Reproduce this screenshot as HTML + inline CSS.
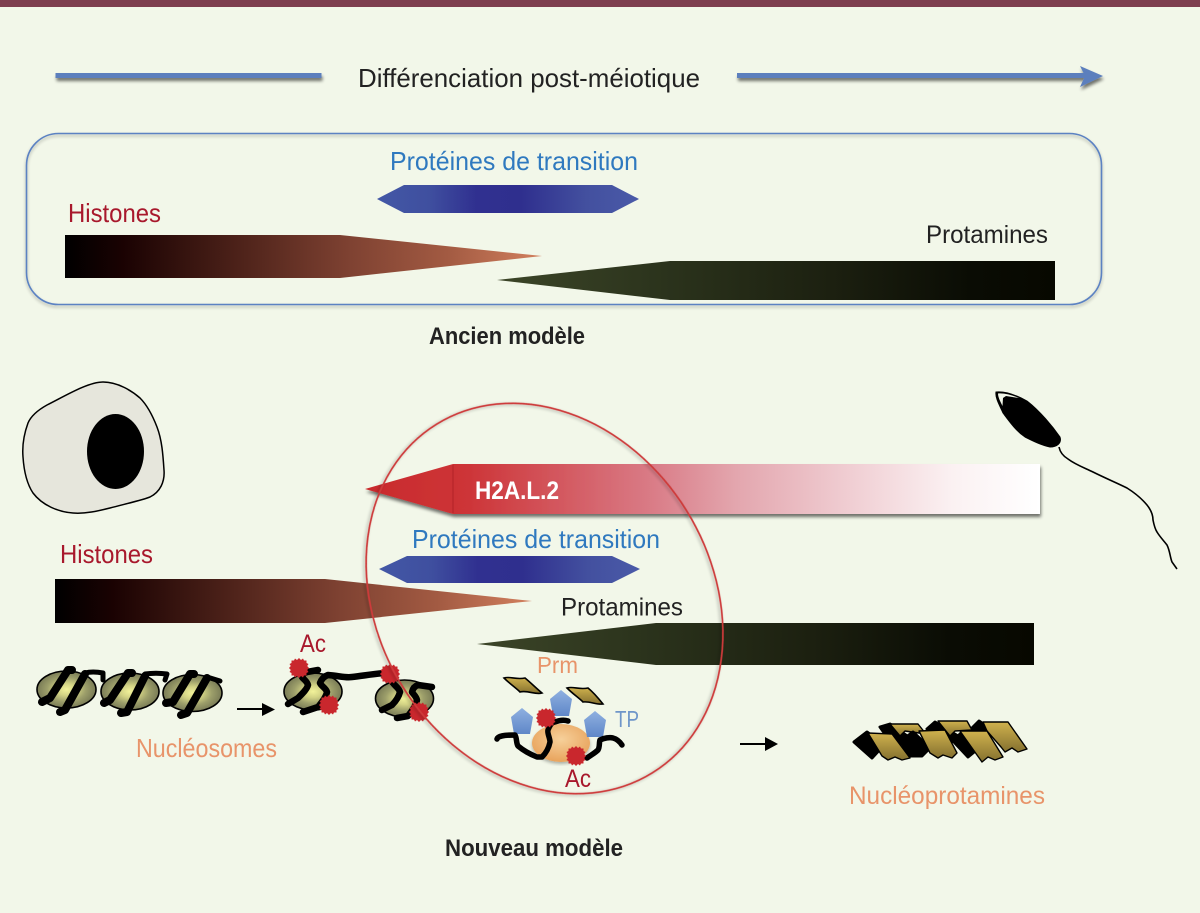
<!DOCTYPE html>
<html><head><meta charset="utf-8"><style>
html,body{margin:0;padding:0;background:#f2f7e9}
svg{display:block}
text{font-family:"Liberation Sans",sans-serif}
</style></head><body>
<svg width="1200" height="913" viewBox="0 0 1200 913" xmlns="http://www.w3.org/2000/svg">
<defs>
<linearGradient id="hist" x1="0" x2="1" y1="0" y2="0"><stop offset="0" stop-color="#000"/><stop offset=".12" stop-color="#1a0202"/><stop offset=".35" stop-color="#4a2018"/><stop offset=".6" stop-color="#7f4232"/><stop offset=".8" stop-color="#a25a42"/><stop offset="1" stop-color="#d2805e"/></linearGradient>
<linearGradient id="prot" x1="0" x2="1" y1="0" y2="0"><stop offset="0" stop-color="#3c4528"/><stop offset=".3" stop-color="#2b331c"/><stop offset=".6" stop-color="#1c2010"/><stop offset=".85" stop-color="#0a0c04"/><stop offset="1" stop-color="#070800"/></linearGradient>
<linearGradient id="tp" x1="0" x2="1" y1="0" y2="0"><stop offset="0" stop-color="#4358a6"/><stop offset=".2" stop-color="#3f4f9f"/><stop offset=".38" stop-color="#303090"/><stop offset=".55" stop-color="#2f2f8e"/><stop offset=".8" stop-color="#43509f"/><stop offset="1" stop-color="#4a5aa8"/></linearGradient>
<linearGradient id="h2a" gradientUnits="userSpaceOnUse" x1="365" x2="1040" y1="0" y2="0"><stop offset="0" stop-color="#c92a2c"/><stop offset=".15" stop-color="#cd3437"/><stop offset=".42" stop-color="#d97a85"/><stop offset=".55" stop-color="#e3a6ae"/><stop offset=".72" stop-color="#f0ced3"/><stop offset=".87" stop-color="#fbf1f2"/><stop offset="1" stop-color="#fff"/></linearGradient>
<linearGradient id="gold" x1="0" x2="0" y1="0" y2="1"><stop offset="0" stop-color="#d0b24e"/><stop offset="1" stop-color="#84702f"/></linearGradient>
<radialGradient id="nuc" cx=".5" cy=".5" r=".55"><stop offset="0" stop-color="#f2f29a"/><stop offset=".3" stop-color="#d2d284"/><stop offset=".6" stop-color="#9c9e6a"/><stop offset="1" stop-color="#6f7150"/></radialGradient>
<radialGradient id="core" cx=".5" cy=".4" r=".6"><stop offset="0" stop-color="#f6d09a"/><stop offset="1" stop-color="#e8a35c"/></radialGradient>
<linearGradient id="penta" x1="0" x2="0" y1="0" y2="1"><stop offset="0" stop-color="#8fb0e0"/><stop offset="1" stop-color="#5f87c8"/></linearGradient>
<filter id="sh" x="-10%" y="-60%" width="120%" height="260%"><feGaussianBlur in="SourceAlpha" stdDeviation="1.5"/><feOffset dx="1" dy="3"/><feComponentTransfer><feFuncA type="linear" slope=".55"/></feComponentTransfer><feMerge><feMergeNode/><feMergeNode in="SourceGraphic"/></feMerge></filter>
<filter id="sh2" x="-10%" y="-10%" width="120%" height="120%"><feGaussianBlur in="SourceAlpha" stdDeviation="1.5"/><feOffset dx="0" dy="2"/><feComponentTransfer><feFuncA type="linear" slope=".3"/></feComponentTransfer><feMerge><feMergeNode/><feMergeNode in="SourceGraphic"/></feMerge></filter>
<polygon id="star" points="0,-10 2,-8 4,-9.5 5,-7.5 7.5,-7.5 7.5,-5 9.5,-4 8.2,-2 10,0 8.2,2 9.5,4 7.5,5 7.5,7.5 5,7.5 4,9.5 2,8 0,10 -2,8 -4,9.5 -5,7.5 -7.5,7.5 -7.5,5 -9.5,4 -8.2,2 -10,0 -8.2,-2 -9.5,-4 -7.5,-5 -7.5,-7.5 -5,-7.5 -4,-9.5 -2,-8" fill="#c9272d"/>
<polygon id="pent" points="0,-13 11,-4 8,13 -8,13 -11,-4" fill="url(#penta)"/>
</defs>

<rect width="1200" height="913" fill="#f2f7e9"/>
<rect width="1200" height="7" fill="#7e3f4f"/>

<!-- Top arrow -->
<g filter="url(#sh)">
<rect x="55.5" y="73" width="266" height="5" fill="#5c7fbd"/>
<rect x="737" y="73" width="348" height="5" fill="#5c7fbd"/>
<polygon points="1080,66 1103,76 1080,87 1085,76" fill="#5c7fbd"/>
</g>
<text x="358" y="87" font-size="26" fill="#222" textLength="342" lengthAdjust="spacingAndGlyphs">Différenciation post-méiotique</text>

<!-- Ancien modèle -->
<rect x="26.5" y="133.5" width="1075" height="171" rx="32" fill="none" stroke="#5b82c2" stroke-width="1.6" filter="url(#sh2)"/>
<text x="390" y="170" font-size="26" fill="#2f79bf" textLength="248" lengthAdjust="spacingAndGlyphs">Protéines de transition</text>
<polygon points="377,199 404,185 612,185 639,199 612,213 404,213" fill="url(#tp)"/>
<text x="68" y="222" font-size="26" fill="#a8182c" textLength="93" lengthAdjust="spacingAndGlyphs">Histones</text>
<polygon points="65,235 340,235 542,256 340,278 65,278" fill="url(#hist)"/>
<text x="926" y="243" font-size="25" fill="#222" textLength="122" lengthAdjust="spacingAndGlyphs">Protamines</text>
<polygon points="497,280 670,261 1055,261 1055,300 670,300" fill="url(#prot)"/>
<text x="429" y="344" font-size="24" font-weight="bold" fill="#222" textLength="156" lengthAdjust="spacingAndGlyphs">Ancien modèle</text>

<!-- Cell -->
<path d="M103,382 C88,382 65,396 47,405 C38,410 31,416 28,423 C24,434 22,445 23,457 C24,472 27,484 33,493 C42,505 58,512 73,513 C85,514 98,511 110,508 C125,504 143,500 150,497 C160,492 165,482 164,470 C163,455 162,440 157,427 C152,414 147,405 140,398 C132,391 118,382 103,382 Z" fill="#e6e6dc" stroke="#000" stroke-width="1.5"/>
<ellipse cx="115.5" cy="451.5" rx="28.5" ry="37.5" fill="#000"/>

<!-- Sperm -->
<path d="M996,392 C1006,391 1018,396 1027,401 C1040,411 1053,427 1060,437 C1062,443 1057,447 1050,447 C1041,445 1033,441 1025,437 C1016,431 1009,421 1003,413 C1000,406 995,398 996,392 Z" fill="#000" stroke="#000" stroke-width="1"/>
<path d="M998,393.5 C1004,393 1012,395 1019,398 L1006,396 L1003,398 L1002.5,406 C1000,401 998,397 998,393.5 Z" fill="#f2f7e9"/>
<path d="M1059,447 C1060,452 1063,456 1068,459 C1076,465 1085,468 1093,472 C1105,478 1117,483 1127,488 C1135,493 1142,499 1147,505 C1151,510 1153,515 1153,520 C1154,525 1155,529 1157,532 C1160,537 1164,541 1167,545 C1170,551 1170,557 1172,562 L1177,569" fill="none" stroke="#000" stroke-width="1.6"/>

<!-- H2A.L.2 -->
<polygon points="365,489 453,464 1040,464 1040,514 453,514" fill="url(#h2a)" filter="url(#sh)"/>
<line x1="453" y1="465" x2="453" y2="513" stroke="#b12226" stroke-width="1"/>
<text x="475" y="499" font-size="25" font-weight="bold" fill="#fff" textLength="84" lengthAdjust="spacingAndGlyphs">H2A.L.2</text>

<!-- Nouveau model labels and bars -->
<text x="412" y="548" font-size="26" fill="#2f79bf" textLength="248" lengthAdjust="spacingAndGlyphs">Protéines de transition</text>
<polygon points="379,569 407,556 612,556 640,569 612,583 407,583" fill="url(#tp)"/>
<text x="60" y="563" font-size="26" fill="#a8182c" textLength="93" lengthAdjust="spacingAndGlyphs">Histones</text>
<polygon points="55,579 325,579 532,601 325,623 55,623" fill="url(#hist)"/>
<text x="561" y="615.5" font-size="25" fill="#222" textLength="122" lengthAdjust="spacingAndGlyphs">Protamines</text>
<polygon points="477,644 656,623 1034,623 1034,665 656,665" fill="url(#prot)"/>

<!-- Nucleosomes left -->
<g stroke="#000" stroke-width="1.6">
<ellipse cx="66.5" cy="689.5" rx="29.5" ry="18.5" fill="url(#nuc)"/>
<ellipse cx="130" cy="691.5" rx="29" ry="18.5" fill="url(#nuc)"/>
<ellipse cx="192.5" cy="693" rx="29.5" ry="18.5" fill="url(#nuc)"/>
</g>
<g fill="none" stroke="#000" stroke-width="8" stroke-linecap="round" stroke-linejoin="round">
<path d="M42,702 L50,698 L68,670 L72,670"/>
<path d="M60,712 L65,710 L85,674"/>
<path d="M104,703 L110,700 L128,673 L132,673"/>
<path d="M121,713 L127,712 L145,676"/>
<path d="M166,703 L173,702 L190,674 L194,674"/>
<path d="M181,715 L187,713 L207,678"/>
</g>
<g fill="none" stroke="#000" stroke-width="5" stroke-linecap="round" stroke-linejoin="round">
<path d="M85,673 C92,671 98,672 103,673 L103,680"/>
<path d="M145,674 C152,673 160,673 167,674 L165,680"/>
<path d="M207,677 L220,681"/>
</g>
<line x1="237" y1="709" x2="264" y2="709" stroke="#000" stroke-width="2"/>
<polygon points="262,703 275,709.5 262,716" fill="#000"/>

<!-- Nucleosomes middle -->
<g stroke="#000" stroke-width="1.6">
<ellipse cx="313" cy="691.5" rx="29" ry="18.5" fill="url(#nuc)"/>
<ellipse cx="404.5" cy="698.5" rx="29" ry="18.5" fill="url(#nuc)"/>
</g>
<g fill="none" stroke="#000" stroke-width="6.5" stroke-linecap="round" stroke-linejoin="round">
<path d="M288,704 L298,698 C303,693 307,689 308,685 C307,681 303,679 302,677 C303,674 304,673 307,672 L318,670"/>
<path d="M303,712 L318,707 C322,702 326,697 327,692 C326,688 321,686 320,683 C322,678 325,676 328,675 C340,676 345,678 352,677 C362,676 372,674 385,673"/>
<path d="M382,710 L392,705 C396,701 399,696 400,692 C399,688 395,686 393,683 L387,675"/>
<path d="M397,718 L408,716 C412,711 416,705 417,700 C416,696 413,694 412,692 C413,688 415,686 418,685 L432,687"/>
</g>
<use href="#star" x="299" y="668"/>
<use href="#star" x="329" y="705"/>
<use href="#star" x="390" y="674"/>
<use href="#star" x="419" y="712"/>
<text x="300" y="652" font-size="25" fill="#a8182c" textLength="26" lengthAdjust="spacingAndGlyphs">Ac</text>
<text x="136" y="757" font-size="26" fill="#e8946a" textLength="141" lengthAdjust="spacingAndGlyphs">Nucléosomes</text>

<!-- Center complex -->
<path d="M504,678 C510,676 516,680 525,678 C530,682 537,689 542,693 C535,695 528,690 520,692 C516,688 510,684 504,678 Z" fill="url(#gold)" stroke="#000" stroke-width="1.6"/>
<path d="M567,688 C573,686 579,690 588,688 C593,692 599,699 603,704 C596,705 590,701 583,702 C579,698 573,694 567,688 Z" fill="url(#gold)" stroke="#000" stroke-width="1.6"/>
<ellipse cx="561" cy="743" rx="29" ry="19" fill="url(#core)" filter="url(#sh2)"/>
<use href="#pent" x="522" y="721"/>
<use href="#pent" x="561" y="703"/>
<use href="#pent" x="595" y="724"/>
<g fill="none" stroke="#000" stroke-width="5.5" stroke-linecap="round" stroke-linejoin="round">
<path d="M497,739 C498,736 504,735 515,735 C517,738 516,743 518,746 C524,751 532,755 537,757 L542,757 C546,753 549,747 550,742 C550,738 547,733 548,730 C550,725 552,722 555,722 C560,720 565,720 568,721"/>
<path d="M587,758 C591,755 595,753 598,750 C600,747 599,742 600,740 C604,738 610,737 613,738 C617,739 620,742 622,745"/>
</g>
<use href="#star" x="546" y="718"/>
<use href="#star" x="576" y="756"/>
<text x="537" y="673" font-size="23" fill="#e8946a" textLength="41" lengthAdjust="spacingAndGlyphs">Prm</text>
<text x="615" y="727" font-size="23" fill="#6f96c9" textLength="24" lengthAdjust="spacingAndGlyphs">TP</text>
<text x="565" y="787" font-size="25" fill="#a8182c" textLength="26" lengthAdjust="spacingAndGlyphs">Ac</text>

<!-- Red circle -->
<ellipse cx="544.5" cy="598.5" rx="205" ry="167" transform="rotate(58.2 544.5 598.5)" fill="none" stroke="#cd3a3a" stroke-width="1.7" filter="url(#sh2)"/>

<!-- Right arrow and nucleoprotamines -->
<line x1="740" y1="744" x2="767" y2="744" stroke="#000" stroke-width="2"/>
<polygon points="765,737 778,744 765,751" fill="#000"/>
<g fill="#000" stroke="#000" stroke-width="3" stroke-linejoin="round">
<path d="M880,727 L890,724 L910,738 L895,748 Z"/>
<path d="M927,729 L935,722 L958,736 L945,748 Z"/>
<path d="M972,728 L979,721 L995,732 L985,742 Z"/>
</g>
<g fill="url(#gold)" stroke="#000" stroke-width="1.4" stroke-linejoin="round">
<path d="M890,724 L918,724 L926,734 L905,731 L900,736 Z"/>
<path d="M938,721 L967,721 L972,730 L955,731 L950,736 Z"/>
<path d="M983,722 L1008,722 L1027,749 L1018,752 L1012,748 L1005,752 L1001,747 L987,731 Z"/>
</g>
<g fill="#000" stroke="#000" stroke-width="3" stroke-linejoin="round">
<path d="M854,742 L867,732 L884,745 L872,758 Z"/>
<path d="M901,741 L913,732 L930,748 L922,756 L908,756 Z"/>
<path d="M953,741 L962,732 L979,748 L968,757 Z"/>
</g>
<g fill="url(#gold)" stroke="#000" stroke-width="1.4" stroke-linejoin="round">
<path d="M868,733 L892,734 L910,758 L902,760 L895,757 L888,760 L882,756 Z"/>
<path d="M919,731 L945,730 L957,753 L952,758 L943,755 L938,758 L930,753 Z"/>
<path d="M960,731 L987,731 L1003,757 L995,760 L988,757 L982,762 L977,755 Z"/>
</g>
<text x="849" y="804" font-size="25" fill="#e8946a" textLength="196" lengthAdjust="spacingAndGlyphs">Nucléoprotamines</text>
<text x="445" y="856" font-size="24" font-weight="bold" fill="#222" textLength="178" lengthAdjust="spacingAndGlyphs">Nouveau modèle</text>
</svg>
</body></html>
